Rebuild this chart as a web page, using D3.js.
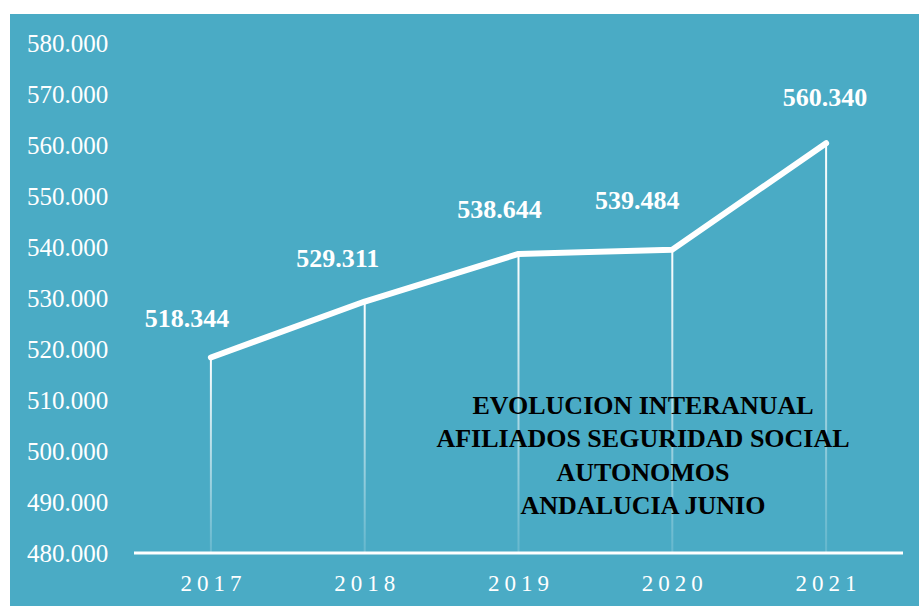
<!DOCTYPE html>
<html><head><meta charset="utf-8">
<script src="https://cdn.jsdelivr.net/npm/d3@7"></script>
<style>html,body{margin:0;padding:0;background:#fff;}svg{display:block;}</style>
</head><body>
<script>
const years = ["2017","2018","2019","2020","2021"];
const values = [518344, 529311, 538644, 539484, 560340];
const valueLabels = ["518.344","529.311","538.644","539.484","560.340"];
const yTicks = [480000,490000,500000,510000,520000,530000,540000,550000,560000,570000,580000];
const titleLines = ["EVOLUCION INTERANUAL","AFILIADOS SEGURIDAD SOCIAL","AUTONOMOS","ANDALUCIA JUNIO"];

const W = 919, H = 606;
const svg = d3.select("body").append("svg").attr("width", W).attr("height", H);
const bg = "#4aabc5";
svg.append("rect").attr("x",10).attr("y",14).attr("width",W-10).attr("height",H-14).attr("fill",bg);

const defs = svg.append("defs");
const grad = defs.append("linearGradient").attr("id","fade").attr("x1",0).attr("y1",0).attr("x2",0).attr("y2",1);
grad.append("stop").attr("offset","0%").attr("stop-color","#fff").attr("stop-opacity",1);
grad.append("stop").attr("offset","100%").attr("stop-color","#fff").attr("stop-opacity",0.15);

const x = d3.scaleBand().domain(years).range([134, 903]);
const y = d3.scaleLinear().domain([480000, 580000]).range([553, 43]);
const cx = d => x(d) + x.bandwidth()/2;

const serif = "'Liberation Serif', serif";
const fmt = v => d3.format(",")(v).replace(/,/g, ".");

// y tick labels
svg.append("g").selectAll("text").data(yTicks).join("text")
  .attr("x", 27).attr("y", d => y(d)).attr("dy","0.34em")
  .attr("fill","#fff").attr("font-family", serif).attr("font-size", 25)
  .text(d => fmt(d));

// drop lines
svg.append("g").selectAll("rect").data(years).join("rect")
  .attr("x", d => cx(d) - 1).attr("width", 2)
  .attr("y", (d,i) => y(values[i])).attr("height", (d,i) => y(480000) - y(values[i]))
  .attr("fill","url(#fade)");

// baseline
svg.append("line").attr("x1",134).attr("x2",903).attr("y1",y(480000)).attr("y2",y(480000))
  .attr("stroke","#fff").attr("stroke-width",3);

// x labels
svg.append("g").selectAll("text").data(years).join("text")
  .attr("x", d => cx(d) + 2.5).attr("y", 591).attr("text-anchor","middle")
  .attr("fill","#fff").attr("font-family",serif).attr("font-size",23)
  .attr("letter-spacing","5px").text(d => d);

// line
const line = d3.line().x((d,i) => cx(years[i])).y(d => y(d));
svg.append("path").datum(values).attr("d", line).attr("fill","none")
  .attr("stroke","#fff").attr("stroke-width",6).attr("stroke-linejoin","round").attr("stroke-linecap","round");

// data labels
const labelDx = [-24,-27,-19,-35,-1];
const labelDy = [-39,-43,-45,-49,-46];
svg.append("g").selectAll("text").data(values).join("text")
  .attr("x", (d,i) => cx(years[i]) + labelDx[i]).attr("y", (d,i) => y(d) + labelDy[i]).attr("dy","0.34em")
  .attr("text-anchor","middle").attr("fill","#fff").attr("font-weight","bold")
  .attr("font-family",serif).attr("font-size",26)
  .text((d,i) => valueLabels[i]);

// title
svg.append("g").selectAll("text").data(titleLines).join("text")
  .attr("x", 643).attr("y", (d,i) => 405 + i*33.5).attr("dy","0.34em")
  .attr("text-anchor","middle").attr("fill","#000").attr("font-weight","bold")
  .attr("font-family",serif).attr("font-size",26)
  .text(d => d);
</script>
</body></html>
